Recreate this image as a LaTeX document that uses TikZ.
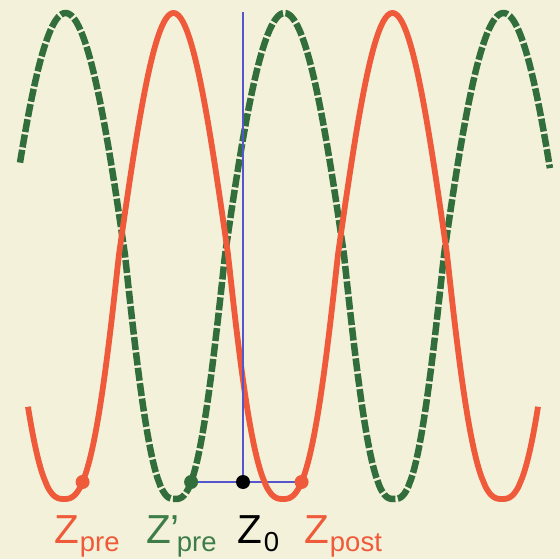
\documentclass[tikz,border=0pt]{standalone}
\usepackage{fontspec}
\setmainfont{Liberation Sans}
\definecolor{bg}{RGB}{243,241,218}
\definecolor{wred}{RGB}{239,90,58}
\definecolor{wgreen}{RGB}{50,110,60}
\definecolor{lgreen}{RGB}{62,125,72}
\definecolor{wblue}{RGB}{85,85,205}
\newcommand\subsz{\fontsize{27.5pt}{27.5pt}\selectfont}
\begin{document}
\begin{tikzpicture}[x=1pt,y=-1pt,
  declare function={
    lobe(\u,\qt,\qb)=(\u>=0)?(1-pow(max(1-\u,0.0001),\qt)):(-1+pow(max(1+\u,0.0001),\qb));
  },
  redwave/.style={draw=wred,line width=5.8pt},
  greenwave/.style={draw=wgreen,line width=6.5pt,dash pattern=on 13pt off 2.5pt},
  bluev/.style={draw=wblue,line width=1.3pt},
  blueh/.style={draw=wblue,line width=2.8pt},
  dot/.style={circle,inner sep=0pt,minimum size=14pt,draw=none},
  lab/.style={anchor=base west,inner sep=0pt,font=\fontsize{40.5pt}{40.5pt}\selectfont}]
\fill[bg] (0,0) rectangle (560,559);
\useasboundingbox (0,0) rectangle (560,559);
% green dashed wave
\draw[greenwave] plot[domain=-67.4:788.8,samples=360,variable=\t]
  ({65.5+0.60833*(\t+8.02*sin(\t))},{256-243*lobe(cos(\t),1,1.35)});
% dot positions
\coordinate (cpre) at (82.6,482);
\coordinate (cprep) at (191.1,482);
\coordinate (czero) at (243,482);
\coordinate (cpost) at (301.6,482);
\coordinate (top) at (243,12);
\draw[blueh] (cprep) -- (cpost);
% red wave
\draw[redwave] plot[domain=-239.2:599.2,samples=320,variable=\t]
  ({173.5+0.60833*\t},{256-243*lobe(cos(\t),1,1.35)});
\draw[bluev] (top) -- (czero);
% dots
\node[dot,fill=wred] (zpre) at (cpre) {};
\node[dot,fill=wgreen] (zprep) at (cprep) {};
\node[dot,fill=black] (zzero) at (czero) {};
\node[dot,fill=wred] (zpost) at (cpost) {};
% labels
\node[lab,text=wred] (lpre) at (54,543) {Z\kern1pt\lower8pt\hbox{\subsz pre}};
\node[lab,text=lgreen] (lprep) at (146,543) {Z’\kern-3pt\lower8pt\hbox{\subsz pre}};
\node[lab,text=black] (lzero) at (237,543) {Z\kern2pt\lower8pt\hbox{\subsz 0}};
\node[lab,text=wred] (lpost) at (304,543) {Z\kern1pt\lower8pt\hbox{\subsz post}};
\end{tikzpicture}
\end{document}
